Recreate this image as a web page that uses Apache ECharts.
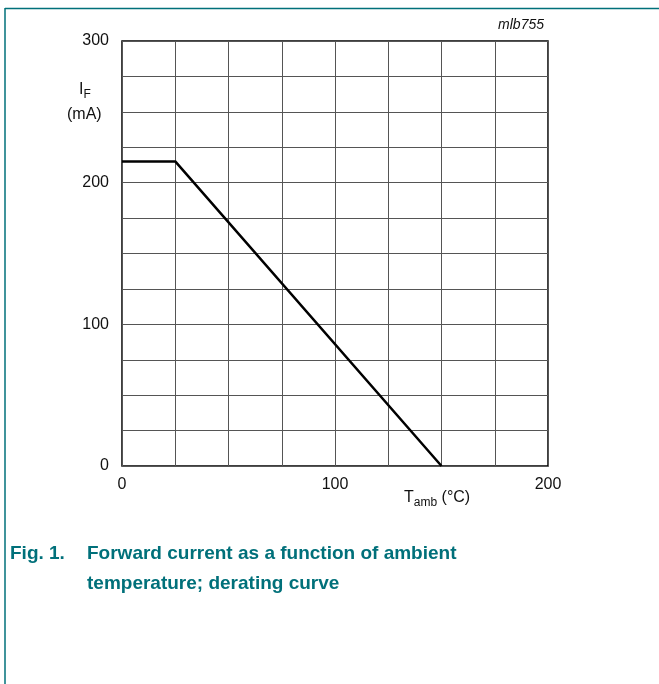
<!DOCTYPE html>
<html><head><meta charset="utf-8">
<script src="https://cdn.jsdelivr.net/npm/echarts@6/dist/echarts.min.js"></script>
<style>html,body{margin:0;padding:0;background:#fff}#c{width:659px;height:684px}</style>
</head><body><div id="c"></div>
<script>
const tempC = [0, 25, 150];
const currentMA = [215, 215, 0];
const xTickLabels = [0, 100, 200];
const yTickLabels = [0, 100, 200, 300];

const chart = echarts.init(document.getElementById('c'), null, {renderer: 'canvas'});
const teal = '#00707a';
chart.setOption({
  animation: false,
  backgroundColor: '#fff',
  grid: {left: 122, top: 41, width: 426, height: 425, show: true, borderColor: '#000', borderWidth: 1.5, backgroundColor: 'transparent'},
  xAxis: {
    type: 'value', min: 0, max: 200, interval: 25,
    axisLine: {show: false}, axisTick: {show: false},
    splitLine: {show: true, lineStyle: {color: '#555', width: 1}},
    axisLabel: {margin: 11, fontFamily: 'Liberation Sans', fontSize: 16, color: '#111',
      formatter: v => xTickLabels.includes(v) ? String(v) : ''}
  },
  yAxis: {
    type: 'value', min: 0, max: 300, interval: 25,
    axisLine: {show: false}, axisTick: {show: false},
    splitLine: {show: true, lineStyle: {color: '#555', width: 1}},
    axisLabel: {margin: 13, fontFamily: 'Liberation Sans', fontSize: 16, color: '#111', padding: [2, 0, 0, 0],
      formatter: v => yTickLabels.includes(v) ? String(v) : ''}
  },
  series: [{
    type: 'line', data: tempC.map((t, i) => [t, currentMA[i]]),
    symbol: 'none', lineStyle: {color: '#000', width: 2.5}
  }],
  graphic: [
    {type: 'line', shape: {x1: 5, y1: 8.5, x2: 659, y2: 8.5}, style: {stroke: teal, lineWidth: 1.5}},
    {type: 'line', shape: {x1: 5, y1: 8, x2: 5, y2: 684}, style: {stroke: teal, lineWidth: 1.5}},
    {type: 'text', right: 115, top: 18, style: {text: 'mlb755', font: 'italic 14px "Liberation Sans"', fill: '#111'}},
    {type: 'text', left: 79, top: 82, style: {text: '{a|I}{s|F}', rich: {a: {font: '16px "Liberation Sans"', fill: '#111'}, s: {font: '12px "Liberation Sans"', fill: '#111', padding: [9, 0, 0, 0]}}}},
    {type: 'text', left: 67, top: 107, style: {text: '(mA)', font: '16px "Liberation Sans"', fill: '#111'}},
    {type: 'text', left: 404, top: 490, style: {text: '{a|T}{s|amb}{a| (°C)}', rich: {a: {font: '16px "Liberation Sans"', fill: '#111'}, s: {font: '12px "Liberation Sans"', fill: '#111', padding: [9, 0, 0, 0]}}}},
    {type: 'text', left: 10, top: 544, style: {text: 'Fig. 1.', font: 'bold 19px "Liberation Sans"', fill: teal}},
    {type: 'text', left: 87, top: 544, style: {text: 'Forward current as a function of ambient', font: 'bold 19px "Liberation Sans"', fill: teal}},
    {type: 'text', left: 87, top: 574, style: {text: 'temperature; derating curve', font: 'bold 19px "Liberation Sans"', fill: teal}}
  ]
});
</script></body></html>
